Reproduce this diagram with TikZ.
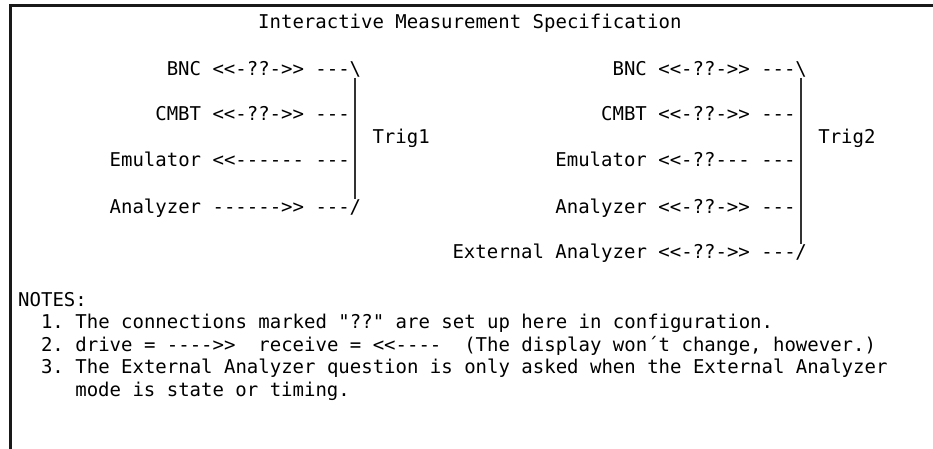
\documentclass[tikz,border=0pt]{standalone}
\usepackage{fontspec}
\setmonofont{DejaVu Sans Mono}
\usetikzlibrary{positioning}
\newcommand{\termsize}{\fontsize{19}{22.5}\selectfont}
\newcommand{\bslash}{\textbackslash}

\begin{document}
\begin{tikzpicture}[
    x=1pt, y=-1pt,
    term/.style={font=\termsize\ttfamily\frenchspacing, inner sep=0pt, anchor=base west},
    screen/.style={line width=3pt, black!90},
    bar/.style={line width=1.8pt, black!80}
]
\useasboundingbox (0,0) rectangle (933,449);
% screen edge
\draw[screen] (933,6) -- (10,6) -- (10,449);

% columns: x = 18 + 11.43*col
\node[term] (title) at ({18+21*11.43},29) {Interactive Measurement Specification};

% Trig1
\node[term] (bncA)  at ({18+13*11.43},76)  {BNC <<-??->> ---};
\node[term] (bsA)   at ({18+29*11.43},76)  {\bslash};
\node[term] (cmbtA) at ({18+12*11.43},121) {CMBT <<-??->> ---};
\node[term] (emuA)  at ({18+8*11.43},167)  {Emulator <<------ ---};
\node[term] (anaA)  at ({18+8*11.43},213)  {Analyzer ------>> ---};
\node[term] (fsA)   at ({18+29*11.43},213) {/};
\node[term] (trigA) at ({18+31*11.43},144) {Trig1};

% Trig2
\node[term] (bncB)  at ({18+52*11.43},76)  {BNC <<-??->> ---};
\node[term] (bsB)   at ({18+68*11.43},76)  {\bslash};
\node[term] (cmbtB) at ({18+51*11.43},121) {CMBT <<-??->> ---};
\node[term] (emuB)  at ({18+47*11.43},167) {Emulator <<-??--- ---};
\node[term] (anaB)  at ({18+47*11.43},213) {Analyzer <<-??->> ---};
\node[term] (extB)  at ({18+38*11.43},258) {External Analyzer <<-??->> ---};
\node[term] (fsB)   at ({18+68*11.43},258) {/};
\node[term] (trigB) at ({18+70*11.43},144) {Trig2};

\draw[bar] (bsA.south) -- (fsA.north);
\draw[bar] (bsB.south) -- (fsB.north);

% notes
\node[term] (notes) at (18,306) {NOTES:};
\node[term] (noteA) at ({18+2*11.43},328.5) {1. The connections marked "??" are set up here in configuration.};
\node[term] (noteB) at ({18+2*11.43},351) {2. drive = ---->>~ receive = <<----~ (The display won´t change, however.)};
\node[term] (noteC) at ({18+2*11.43},373.5) {3. The External Analyzer question is only asked when the External Analyzer};
\node[term] (noteD) at ({18+5*11.43},396) {mode is state or timing.};
\end{tikzpicture}
\end{document}
